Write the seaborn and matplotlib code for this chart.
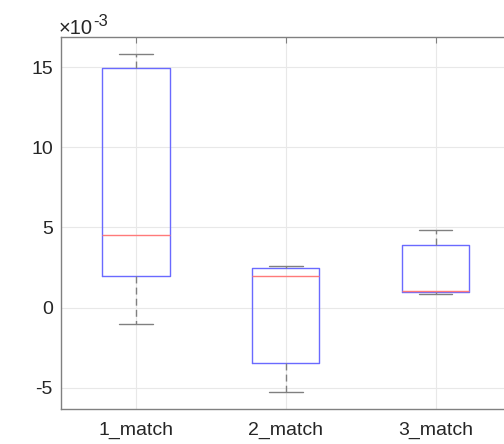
import numpy as np
import pandas as pd
import matplotlib
matplotlib.use("Agg")
import matplotlib.pyplot as plt
from matplotlib.ticker import FuncFormatter, FixedLocator
import seaborn as sns

# Observations per group (five-number samples, units of 1e-3)
groups = ["1_match", "2_match", "3_match"]
match1 = [-1.00, 2.00, 4.55, 14.95, 15.83]
match2 = [-5.23, -3.43, 2.00, 2.45, 2.60]
match3 = [0.87, 0.95, 1.05, 3.89, 4.83]
yticks = [-5, 0, 5, 10, 15]
scale = 1e-3

df = pd.DataFrame({
    "group": np.repeat(groups, 5),
    "value": np.array(match1 + match2 + match3) * scale,
})

sns.set_style("white")
plt.rcParams["font.family"] = ["Liberation Sans", "DejaVu Sans"]
plt.rcParams["axes.unicode_minus"] = False

fig = plt.figure(figsize=(5.04, 4.44), dpi=100)
ax = fig.add_axes([61.1 / 504, 1 - 409 / 444, (510.4 - 61.1) / 504, (409 - 37) / 444])

gray = "#808080"
sns.boxplot(
    data=df, x="group", y="value", ax=ax, order=groups,
    width=0.45, fill=False, whis=1.5, linewidth=1.0,
    boxprops=dict(color="#6a6aff", linewidth=1.0),
    medianprops=dict(color="#ff7a7a", linewidth=1.0),
    whiskerprops=dict(color=gray, linestyle=(0, (5, 3)), linewidth=1.0),
    capprops=dict(color=gray, linewidth=1.0),
    flierprops=dict(marker="+", markeredgecolor="red"),
)

ax.set_xlim(-0.5, 2.5)
ax.set_ylim(-6.31 * scale, 16.87 * scale)
ax.yaxis.set_major_locator(FixedLocator([v * scale for v in yticks]))
ax.yaxis.set_major_formatter(FuncFormatter(lambda v, pos: f"{v / scale:g}".replace("\u2212", "-")))

# exponent label above the y axis
base = fig.text(59 / 504, 1 - 34 / 444, "\u00d710", fontsize=14.5, color="#262626",
                ha="left", va="baseline")
renderer = fig.canvas.get_renderer()
x_end = base.get_window_extent(renderer).x1
fig.text(x_end / 504 + 0.5 / 504, 1 - 26.5 / 444, "-3", fontsize=12, color="#262626",
         ha="left", va="baseline")

ax.set_xlabel("")
ax.set_ylabel("")
ax.grid(True, color="#e8e8e8", linewidth=0.8)
ax.set_axisbelow(True)
for side in ["left", "bottom", "top", "right"]:
    ax.spines[side].set_visible(True)
    ax.spines[side].set_color(gray)
    ax.spines[side].set_linewidth(1.0)
ax.tick_params(axis="both", direction="in", length=4, color=gray,
               labelsize=14, labelcolor="#262626", top=True, right=True)
ax.tick_params(axis="x", pad=9)
ax.tick_params(axis="y", pad=6)

fig.savefig("out.png", dpi=100)
